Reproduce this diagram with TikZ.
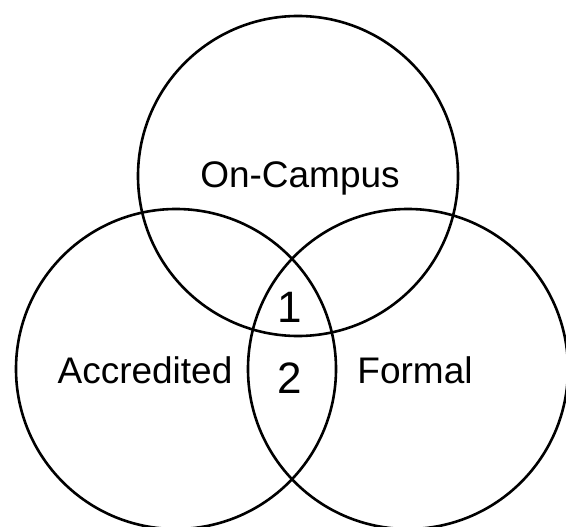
\documentclass[tikz,border=0pt]{standalone}
\usepackage{fontspec}
\setmainfont{Liberation Sans}
\usetikzlibrary{positioning}
\tikzstyle{every node}+=[inner sep=0pt,outer sep=0pt]
\tikzstyle{every path}+=[line width=2.6pt]
\tikzstyle{set}=[draw,circle,minimum size=320pt]
\tikzstyle{setlabel}=[anchor=base,font=\fontsize{37}{44}\selectfont]
\tikzstyle{region}=[anchor=base,font=\fontsize{44}{52}\selectfont]

\begin{document}
\begin{tikzpicture}[x=1pt,y=-1pt]
\useasboundingbox (0,0) rectangle (566,527);

% the three sets
\node [set] (campus) at (298,176) {};
\node [set] (accredited) at (176,369) {};
\node [set] (formal) at (408,369) {};

% set names
\node [setlabel] (campuslbl) at (300,188) {On-Campus};
\node [setlabel] (accreditedlbl) at (145,383) {Accredited};
\node [setlabel] (formallbl) at (415,383) {Formal};

% overlap regions
\node [region] (one) at (290,322) {1};
\node [region] (two) at (290,393) {2};
\end{tikzpicture}
\end{document}
